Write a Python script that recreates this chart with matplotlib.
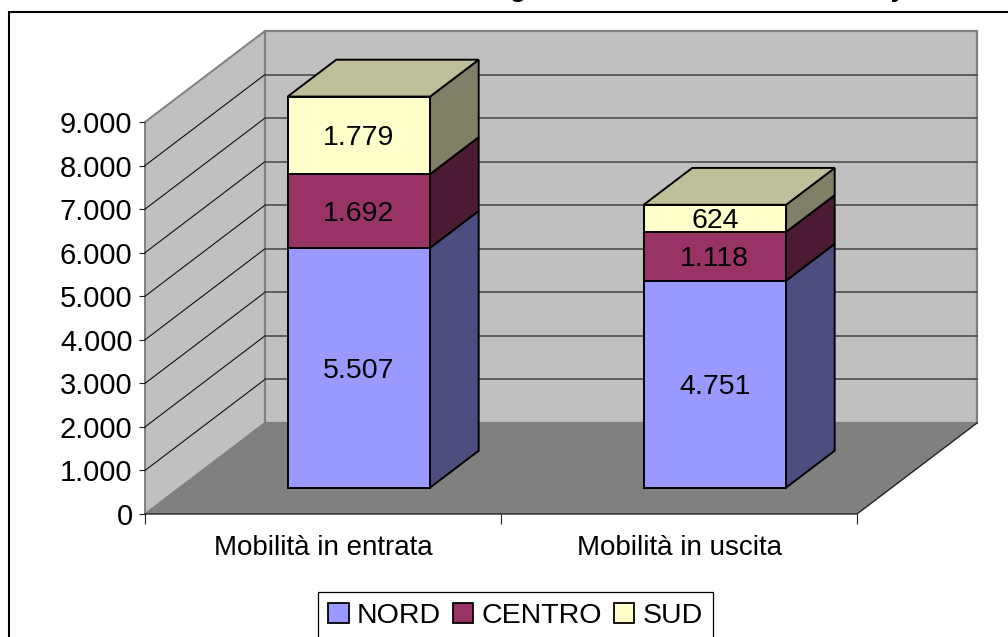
import matplotlib
matplotlib.use('Agg')
import matplotlib.pyplot as plt
from matplotlib.patches import Patch, Rectangle

plt.rcParams['font.family'] = ['Liberation Sans', 'DejaVu Sans']

categories = ['Mobilità in entrata', 'Mobilità in uscita']
series_names = ['NORD', 'CENTRO', 'SUD']
nord = [5507, 4751]
centro = [1692, 1118]
sud = [1779, 624]
y_ticks = [0, 1000, 2000, 3000, 4000, 5000, 6000, 7000, 8000, 9000]

front_colors = ['#9999FF', '#993366', '#FFFFCC']
side_colors = ['#4D4D80', '#4D1A33', '#808066']
top_colors = ['#BFBF99', '#BFBF99', '#BFBF99']

W, H = 1008, 637
# depth of the floor in data units
DX = 120 / 356
DY = 2090
BAR_W = 0.4
BAR_SHIFT = 0.003
D0, D1 = 0.29, 0.695


def fmt(v):
    return f'{v:,}'.replace(',', '.')


def pts(*corners):
    # (category x, value, depth) -> flat 2d position
    xs = [c[0] + c[2] * DX for c in corners]
    ys = [c[1] + c[2] * DY for c in corners]
    return xs, ys


fig = plt.figure(figsize=(W / 100, H / 100), dpi=100)
ax = fig.add_axes([145 / W, 1 - 514 / H, 712 / W, 392 / H])
ax.set_xlim(0, 2)
ax.set_ylim(0, 9000)
ax.patch.set_visible(False)
for s in ax.spines.values():
    s.set_visible(False)

top = 9000
# walls and floor
ax.fill(*pts((0, 0, 0), (0, 0, 1), (0, top, 1), (0, top, 0)), fc='#C0C0C0', ec='#808080', lw=1.4, clip_on=False, zorder=1)
ax.fill(*pts((0, 0, 1), (2, 0, 1), (2, top, 1), (0, top, 1)), fc='#C0C0C0', ec='#808080', lw=1.6, clip_on=False, zorder=1)
ax.fill(*pts((0, 0, 0), (2, 0, 0), (2, 0, 1), (0, 0, 1)), fc='#808080', ec='none', clip_on=False, zorder=2)
ax.plot(*pts((0, 0, 0), (2, 0, 0), (2, 0, 1)), color='#222222', lw=1, clip_on=False, zorder=2)

# grid lines on both walls
for v in y_ticks[1:]:
    if v == top:
        continue
    lx, ly = pts((0, v, 0), (0, v, 1))
    ax.plot(lx, ly, color='#111111', lw=0.8, clip_on=False, zorder=2)
    lx, ly = pts((0, v, 1), (2, v, 1))
    ax.plot(lx, ly, color='#444444', lw=1.1, clip_on=False, zorder=2)

# stacked bars
for i in range(len(categories)):
    x0 = i + 0.5 + BAR_SHIFT - BAR_W / 2
    x1 = x0 + BAR_W
    base = 0
    for vals, fc, sc in zip([nord, centro, sud], front_colors, side_colors):
        v = vals[i]
        t = base + v
        ax.fill(*pts((x1, base, D0), (x1, base, D1), (x1, t, D1), (x1, t, D0)),
                fc=sc, ec='black', lw=1.4, clip_on=False, zorder=3, joinstyle='miter')
        ax.fill(*pts((x0, base, D0), (x1, base, D0), (x1, t, D0), (x0, t, D0)),
                fc=fc, ec='black', lw=1.4, clip_on=False, zorder=4, joinstyle='miter')
        tx, ty = pts(((x0 + x1) / 2, base + v / 2, D0))
        ax.text(tx[0], ty[0], fmt(v), ha='center', va='center_baseline', fontsize=20.5, color='black', zorder=6)
        base = t
    ax.fill(*pts((x0, base, D0), (x1, base, D0), (x1, base, D1), (x0, base, D1)),
            fc=top_colors[2], ec='black', lw=1.4, clip_on=False, zorder=4, joinstyle='miter')

# axes
ax.set_yticks(y_ticks)
ax.set_yticklabels([fmt(v) for v in y_ticks])
ax.tick_params(axis='y', labelsize=21, length=4, width=0.8, pad=5, color='#222222')
ax.set_xticks([0, 1, 2])
ax.set_xticklabels(['', '', ''])
ax.set_xticks([0.5, 1.5], minor=True)
ax.set_xticklabels(categories, minor=True)
ax.tick_params(axis='x', which='major', length=7, width=0.8, color='#222222')
ax.tick_params(axis='x', which='minor', length=0, labelsize=20, pad=15)

# chart frame, runs off the top right and bottom of the picture
fig.add_artist(Rectangle((9 / W, -0.1), 1.2, 1.1 - 12 / H, transform=fig.transFigure,
                         fc='none', ec='black', lw=1.5))

# what is left of the cut off title
fig.text(518 / W, 1 + 3 / H, 'g', fontsize=19, fontweight='bold', ha='center', va='baseline')
fig.text(899 / W, 1 + 3 / H, 'y', fontsize=19, fontweight='bold', style='italic', ha='center', va='baseline')

handles = [Patch(fc=c, ec='black', lw=1.3) for c in front_colors]
leg = fig.legend(handles, series_names, loc='lower center', bbox_to_anchor=(515.5 / W, -2 / H),
                 ncol=3, fontsize=20.5, frameon=True, fancybox=False, framealpha=1, edgecolor='black',
                 handlelength=0.72, handleheight=0.72, handletextpad=0.28, columnspacing=0.42,
                 borderpad=0.36, borderaxespad=0)
leg.get_frame().set_linewidth(0.9)

fig.savefig('out.png', dpi=100)
